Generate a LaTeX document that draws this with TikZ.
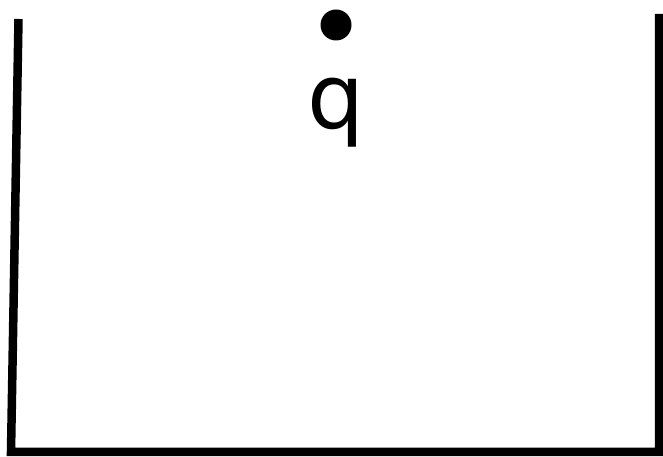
\documentclass[tikz,border=0pt]{standalone}
\usepackage{fontspec}
\newfontfamily\qfont{DejaVu Sans}
\begin{document}
\begin{tikzpicture}[x=1pt,y=1pt,
  wall/.style={line width=8.5pt, line join=miter, black},
  charge/.style={circle, fill=black, minimum size=31pt, inner sep=0pt},
  qlabel/.style={font=\qfont\fontsize{90}{94}\selectfont, inner sep=0pt, anchor=base}]
\useasboundingbox (0,0) rectangle (663,457);
\coordinate (lt) at (18.5,438);
\coordinate (lb) at (11,5);
\coordinate (rb) at (659,5);
\coordinate (rt) at (659,443);
\draw[wall] (lt) -- (lb) -- (rb) -- (rt);
\node[charge] (dot) at (336,432) {};
\node[qlabel, text=black, draw=none] (q) at (336,328) {q};
\end{tikzpicture}
\end{document}
